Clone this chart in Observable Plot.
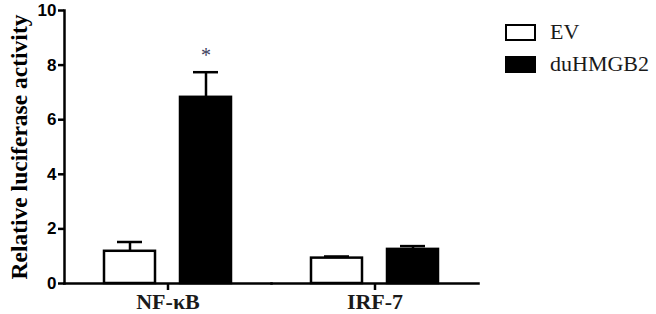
<!DOCTYPE html>
<html>
<head>
<meta charset="utf-8">
<script src="https://cdn.jsdelivr.net/npm/d3@7"></script>
<script src="https://cdn.jsdelivr.net/npm/@observablehq/plot@0.6"></script>
<style>
  html, body { margin: 0; padding: 0; background: #fff; }
  #wrap { position: relative; width: 656px; height: 314px; overflow: hidden; }
  #legend { position: absolute; left: 505px; top: 16px; font-family: "Liberation Serif", "DejaVu Serif", serif; font-size: 22px; color: #1a1a1a; }
  .row { display: flex; align-items: center; height: 32px; }
  .sw { width: 27px; height: 13px; border: 2px solid #000; margin-right: 14px; box-sizing: content-box; }
</style>
</head>
<body>
<div id="wrap"><div id="legend"></div></div>
<script>
const promoters = ["NF-κB", "IRF-7"];
const groups = ["EV", "duHMGB2"];
const groupFill = ["#ffffff", "#000000"];
const meanEV = [1.18, 0.93];
const errEV = [0.34, 0.06];
const meanDu = [6.82, 1.25];
const errDu = [0.92, 0.12];
const signif = ["*", ""];
const yTicks = [0, 2, 4, 6, 8, 10];
const yLabel = "Relative luciferase activity";

const data = [];
promoters.forEach((p, i) => {
  data.push({promoter: p, group: groups[0], mean: meanEV[i], err: errEV[i], sig: ""});
  data.push({promoter: p, group: groups[1], mean: meanDu[i], err: errDu[i], sig: signif[i]});
});

const chart = Plot.plot({
  width: 656,
  height: 314,
  marginLeft: 63,
  marginRight: 178,
  marginTop: 10,
  marginBottom: 31,
  style: {background: "transparent"},
  fx: {domain: promoters, padding: 0, label: null},
  x: {domain: groups, paddingInner: 0.325, paddingOuter: 0.51, axis: null},
  y: {domain: [0, 10], axis: null},
  color: {domain: groups, range: groupFill},
  marks: [
    Plot.ruleX(data, {fx: "promoter", x: "group", y1: "mean", y2: d => d.mean + d.err, stroke: "#000", strokeWidth: 2.5}),
    Plot.tickY(data, {fx: "promoter", x: "group", y: d => d.mean + d.err, stroke: "#000", strokeWidth: 2.5, insetLeft: 13, insetRight: 13}),
    Plot.barY(data, {fx: "promoter", x: "group", y: "mean", fill: "group", stroke: "#000", strokeWidth: 2.5}),
    Plot.text(data, {fx: "promoter", x: "group", y: d => d.mean + d.err, text: "sig", dy: -17, fontSize: 20, fill: "#3c3c5c", fontFamily: "Liberation Serif, serif"}),
    Plot.frame({anchor: "bottom", stroke: "#000", strokeWidth: 2.5}),
    Plot.frame({anchor: "left", facetAnchor: "left", stroke: "#000", strokeWidth: 2.5}),
    Plot.axisY({ticks: yTicks, tickSize: 6, tickPadding: 2, tickFormat: d3.format("d"), strokeWidth: 2.5, fontSize: 17, fontWeight: "bold", fontFamily: "Liberation Sans, Arial, sans-serif", fill: "#000", label: null}),
    Plot.axisFx({anchor: "bottom", tickSize: 7, tickPadding: 3, strokeWidth: 2.5, fontSize: 22, fontWeight: "bold", fontFamily: "Liberation Serif, serif", fill: "#1a1a1a", label: null}),
    Plot.text([yLabel], {text: d => d, frameAnchor: "left", textAnchor: "middle", rotate: -90, dx: -45, facetAnchor: "left", fontSize: 23.5, fontWeight: "bold", fontFamily: "Liberation Serif, serif", fill: "#000"})
  ]
});
document.getElementById("wrap").prepend(chart);

const legend = document.getElementById("legend");
groups.forEach((g, i) => {
  const row = document.createElement("div");
  row.className = "row";
  const sw = document.createElement("div");
  sw.className = "sw";
  sw.style.background = groupFill[i];
  const t = document.createElement("span");
  t.textContent = g;
  row.append(sw, t);
  legend.append(row);
});
</script>
</body>
</html>
